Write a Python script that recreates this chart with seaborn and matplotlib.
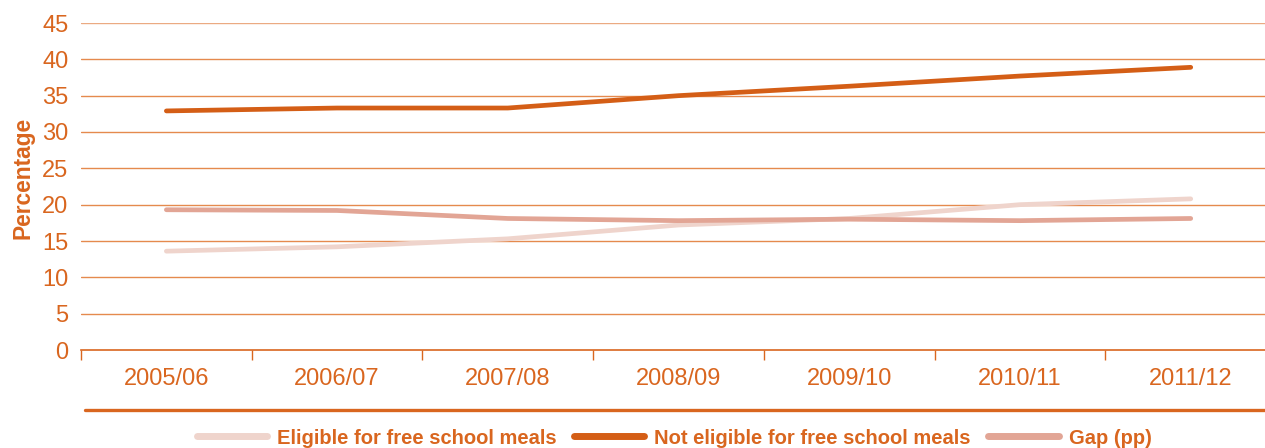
import matplotlib
matplotlib.use("Agg")
import matplotlib.pyplot as plt
from matplotlib.lines import Line2D
import seaborn as sns
import pandas as pd

years = ["2005/06", "2006/07", "2007/08", "2008/09", "2009/10", "2010/11", "2011/12"]
eligible = [13.6, 14.2, 15.3, 17.2, 18.1, 20.0, 20.8]
not_eligible = [32.9, 33.3, 33.3, 35.0, 36.3, 37.7, 38.9]
gap = [19.3, 19.2, 18.1, 17.8, 18.0, 17.8, 18.1]

series_names = ["Eligible for free school meals", "Not eligible for free school meals", "Gap (pp)"]
series_colors = ["#EFD4CC", "#D45E16", "#E2A595"]

ORANGE = "#D9661F"
GRID = "#E58A4E"

df = pd.DataFrame({
    "year": years * 3,
    "value": eligible + not_eligible + gap,
    "series": [series_names[0]] * 7 + [series_names[1]] * 7 + [series_names[2]] * 7,
})

sns.set_style("white")
plt.rcParams["font.family"] = ["Liberation Sans", "DejaVu Sans"]

fig = plt.figure(figsize=(12.65, 4.48), dpi=100)
ax = fig.add_axes([81 / 1265, 98 / 448, (1265 - 81) / 1265, 327 / 448])

sns.lineplot(data=df, x="year", y="value", hue="series", hue_order=series_names,
             palette=series_colors, linewidth=3.4, sort=False, legend=False, ax=ax)
for ln in ax.get_lines():
    ln.set_solid_capstyle("round")

ax.set_ylim(0, 45)
ax.set_xlim(-0.5, 6.435)
ax.set_yticks(range(0, 50, 5))
for v in range(5, 50, 5):
    ax.axhline(v, color=GRID if v < 45 else "#EBAA82", lw=1.0, zorder=0)

# category boundaries carry the tick marks
ax.set_xticks([i - 0.5 for i in range(7)])
ax.set_xticklabels([])
ax.set_xticks(range(7), minor=True)
ax.set_xticklabels(years, minor=True)
ax.tick_params(axis="x", which="major", bottom=True, length=7, width=1, color=ORANGE, direction="out")
ax.tick_params(axis="x", which="minor", bottom=True, length=0, pad=13, labelsize=17, labelcolor=ORANGE)
ax.tick_params(axis="y", length=0, pad=9, labelsize=17, labelcolor=ORANGE)

for side in ["top", "right", "left"]:
    ax.spines[side].set_visible(False)
ax.spines["bottom"].set_color(ORANGE)
ax.spines["bottom"].set_linewidth(1.2)

ax.set_xlabel("")
ax.set_ylabel("Percentage", color=ORANGE, fontsize=16.4, fontweight="bold")
ax.yaxis.set_label_coords(-0.0395, 0.525)

# separator rule above the key
fig.add_artist(Line2D([85 / 1265, 1.0], [1 - 410 / 448] * 2, color=ORANGE, lw=2.4,
                      transform=fig.transFigure))

handles = [Line2D([0], [0], color=c, lw=5, solid_capstyle="round") for c in series_colors]
leg = fig.legend(handles, series_names, loc="center", bbox_to_anchor=(674 / 1265, 1 - 438 / 448),
                 ncol=3, frameon=False, handlelength=3.5, handletextpad=0.5, columnspacing=0.85,
                 prop={"size": 14.5, "weight": "bold"})
for t in leg.get_texts():
    t.set_color(ORANGE)

fig.savefig("out.png", dpi=100)
